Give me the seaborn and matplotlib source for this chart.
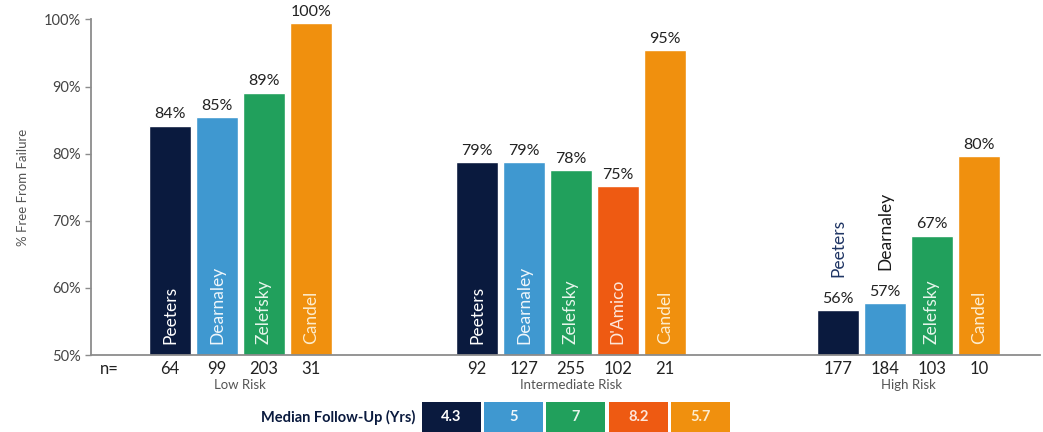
import pandas as pd
import matplotlib.pyplot as plt
import seaborn as sns
from matplotlib.patches import Rectangle

# Data
groups = ["Low Risk", "Intermediate Risk", "High Risk"]

low_studies = ["Peeters", "Dearnaley", "Zelefsky", "Candel"]
low_values = [84.2, 85.4, 89.1, 99.4]
low_labels = ["84%", "85%", "89%", "100%"]
low_n = [64, 99, 203, 31]

mid_studies = ["Peeters", "Dearnaley", "Zelefsky", "D'Amico", "Candel"]
mid_values = [78.8, 78.8, 77.6, 75.2, 95.4]
mid_labels = ["79%", "79%", "78%", "75%", "95%"]
mid_n = [92, 127, 255, 102, 21]

high_studies = ["Peeters", "Dearnaley", "Zelefsky", "Candel"]
high_values = [56.7, 57.7, 67.8, 79.7]
high_labels = ["56%", "57%", "67%", "80%"]
high_n = [177, 184, 103, 10]

follow_studies = ["Peeters", "Dearnaley", "Zelefsky", "D'Amico", "Candel"]
follow_years = ["4.3", "5", "7", "8.2", "5.7"]

colors = {
    "Peeters": "#0a1a3e",
    "Dearnaley": "#3f98d0",
    "Zelefsky": "#21a05c",
    "D'Amico": "#ee5a12",
    "Candel": "#f0900e",
}
inner_text = {
    "Peeters": "#ffffff",
    "Dearnaley": "#eef6fb",
    "Zelefsky": "#e6f5eb",
    "D'Amico": "#fde6da",
    "Candel": "#fdeccd",
}
above_text = {"Peeters": "#1f3564", "Dearnaley": "#1a1a1a"}

# group start positions (in bar slots)
group_start = [0, 6.55, 14.25]

rows = []
for g, start, studies, values, labels, ns in zip(
        groups, group_start,
        [low_studies, mid_studies, high_studies],
        [low_values, mid_values, high_values],
        [low_labels, mid_labels, high_labels],
        [low_n, mid_n, high_n]):
    for i in range(len(studies)):
        rows.append({"group": g, "pos": start + i, "study": studies[i],
                     "value": values[i], "label": labels[i], "n": ns[i]})
df = pd.DataFrame(rows)

sns.set_theme(style="white")
plt.rcParams['font.family'] = ['Lato', 'DejaVu Sans']

fig = plt.figure(figsize=(10.43, 4.32), dpi=100)
ax = fig.add_axes([0.087, 0.178, 0.91, 0.777])

sns.barplot(data=df, x="pos", y="value", hue="study", palette=colors,
            native_scale=True, dodge=False, width=0.9, saturation=1,
            errorbar=None, legend=False, orient="x", ax=ax)

ax.set_ylim(50, 100)
ax.set_xlim(-1.69, 18.55)
ax.set_yticks([50, 60, 70, 80, 90, 100])
ax.set_yticklabels([f"{v}%" for v in [50, 60, 70, 80, 90, 100]],
                   fontsize=10.5, color="#444")
ax.set_xticks([])
ax.set_xlabel("")
ax.set_ylabel("% Free From Failure", fontsize=9.5, color="#555", labelpad=11)
ax.tick_params(axis="y", length=4, width=1, color="#8c8c8c", direction="out",
               left=True, pad=3)
sns.despine(ax=ax)
for s in ["left", "bottom"]:
    ax.spines[s].set_color("#8c8c8c")
    ax.spines[s].set_linewidth(1.3)

# labels
for _, r in df.iterrows():
    ax.annotate(r["label"], (r["pos"], r["value"]), xytext=(0, 3),
                textcoords="offset points", ha="center", va="bottom",
                fontsize=11.5, color="#222", annotation_clip=False)
    if r["value"] - 50 >= 12:
        ax.annotate(r["study"], (r["pos"], 50), xytext=(0, 8),
                    textcoords="offset points", rotation=90, ha="center",
                    va="bottom", fontsize=12.5, color=inner_text[r["study"]])
    else:
        ax.annotate(r["study"], (r["pos"], r["value"]), xytext=(0, 24),
                    textcoords="offset points", rotation=90, ha="center",
                    va="bottom", fontsize=12.5, color=above_text[r["study"]])
    ax.annotate(str(r["n"]), (r["pos"], 50), xytext=(0, -4),
                textcoords="offset points", ha="center", va="top",
                fontsize=12, color="#222", annotation_clip=False)

ax.annotate("n=", (-1.3, 50), xytext=(0, -4), textcoords="offset points",
            ha="center", va="top", fontsize=12, color="#222", annotation_clip=False)

for g in groups:
    center = df.loc[df["group"] == g, "pos"].mean()
    ax.annotate(g, (center, 50), xytext=(0, -17), textcoords="offset points",
                ha="center", va="top", fontsize=9.5, color="#555",
                annotation_clip=False)

# follow-up legend strip
W, H = 1043, 432
fig.text(415 / W, 1 - 417 / H, "Median Follow-Up (Yrs)", ha="right", va="center",
         fontsize=10.5, fontweight="bold", color="#0a1a3e")
for i, (st, yrs) in enumerate(zip(follow_studies, follow_years)):
    x0 = 422 + i * 62.2
    fig.add_artist(Rectangle((x0 / W, 0), 59 / W, 30 / H, transform=fig.transFigure,
                             facecolor=colors[st], edgecolor="none"))
    fig.text((x0 + 29.5) / W, 15 / H, yrs, ha="center", va="center",
             fontsize=10.5, fontweight="bold", color=inner_text[st])

fig.savefig("out.png", dpi=100)
